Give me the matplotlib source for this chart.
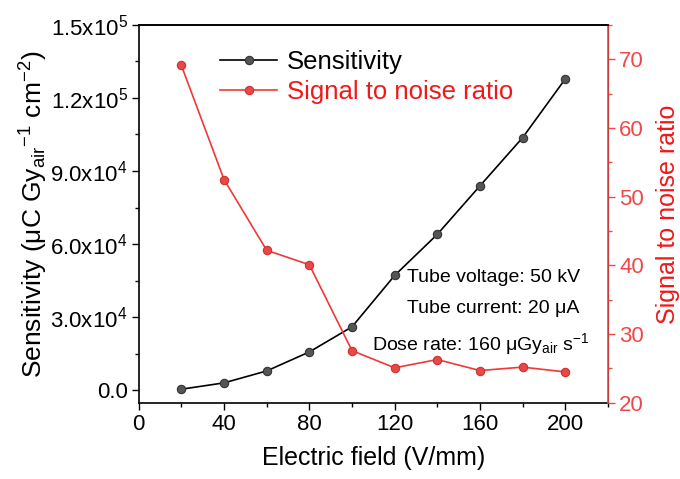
import matplotlib
matplotlib.use("Agg")
import matplotlib.pyplot as plt
from matplotlib.ticker import FixedLocator, FixedFormatter, MultipleLocator

plt.rcParams['font.family'] = ['Liberation Sans', 'DejaVu Sans']
plt.rcParams['mathtext.fontset'] = 'custom'
plt.rcParams['mathtext.rm'] = 'Liberation Sans'
plt.rcParams['mathtext.it'] = 'Liberation Sans'
plt.rcParams['mathtext.default'] = 'regular'

field = [20, 40, 60, 80, 100, 120, 140, 160, 180, 200]
sensitivity = [400, 3000, 7900, 15700, 26000, 47100, 64000, 83900, 103700, 127800]
snr = [69.1, 52.5, 42.2, 40.1, 27.6, 25.1, 26.3, 24.7, 25.2, 24.5]

left_ticks = [0, 3e4, 6e4, 9e4, 1.2e5, 1.5e5]
left_labels = ['0.0', r'3.0x10$^4$', r'6.0x10$^4$', r'9.0x10$^4$', r'1.2x10$^5$', r'1.5x10$^5$']
x_ticks = [0, 40, 80, 120, 160, 200]
right_ticks = [20, 30, 40, 50, 60, 70]

red = '#f01818'
axred = '#f04848'

fig = plt.figure(figsize=(6.8, 4.79), dpi=100)
ax = fig.add_axes([0.204, 0.159, 0.69, 0.789])
ax2 = ax.twinx()

l1, = ax.plot(field, sensitivity, color='black', lw=1.2, marker='o', ms=6,
              mfc='#555555', mec='#333333', mew=0.8, label='Sensitivity')
l2, = ax2.plot(field, snr, color='#f03838', lw=1.2, marker='o', ms=6,
               mfc='#e84848', mec='#d03030', mew=0.8, label='Signal to noise ratio')

ax.set_xlim(0, 220)
ax.set_ylim(-5200, 1.5e5)
ax2.set_ylim(20, 75)

ax.xaxis.set_major_locator(FixedLocator(x_ticks))
ax.xaxis.set_minor_locator(MultipleLocator(20))
ax.yaxis.set_major_locator(FixedLocator(left_ticks))
ax.yaxis.set_major_formatter(FixedFormatter(left_labels))
ax.yaxis.set_minor_locator(MultipleLocator(1.5e4))
ax2.yaxis.set_major_locator(FixedLocator(right_ticks))
ax2.yaxis.set_minor_locator(MultipleLocator(5))

ax.tick_params(axis='both', which='major', direction='out', length=5, width=1, labelsize=16, pad=3)
ax.tick_params(axis='both', which='minor', direction='out', length=3, width=1)
ax2.tick_params(axis='y', which='major', direction='out', length=5, width=1, labelsize=16,
                colors=axred, pad=3)
ax2.tick_params(axis='y', which='minor', direction='out', length=3, width=1, colors=axred)

for s in ['left', 'bottom', 'top']:
    ax.spines[s].set_linewidth(1.2)
ax2.spines['right'].set_color(axred)
ax2.spines['right'].set_linewidth(1.2)
ax2.spines['top'].set_linewidth(1.2)
ax2.spines['left'].set_visible(False)
ax2.spines['bottom'].set_visible(False)

ax.set_xlabel('Electric field (V/mm)', fontsize=18, labelpad=8)
ax.set_ylabel(r'Sensitivity (μC Gy$_{air}$$^{-1}$ cm$^{-2}$)', fontsize=19, labelpad=0)
ax2.set_ylabel('Signal to noise ratio', fontsize=18, color=red, labelpad=9)

leg = ax.legend(handles=[l1, l2], loc='upper left', bbox_to_anchor=(0.125, 0.995),
                frameon=False, fontsize=18.5, handlelength=2.2, handletextpad=0.4,
                labelspacing=0.25)
leg.get_texts()[1].set_color(red)

ax.text(0.94, 0.331, 'Tube voltage: 50 kV', transform=ax.transAxes, ha='right', va='center', fontsize=14)
ax.text(0.94, 0.249, 'Tube current: 20 μA', transform=ax.transAxes, ha='right', va='center', fontsize=14)
ax.text(0.96, 0.155, r'Dose rate: 160 μGy$_{air}$ s$^{-1}$', transform=ax.transAxes, ha='right',
        va='center', fontsize=14)

fig.savefig('out.png', dpi=100)
